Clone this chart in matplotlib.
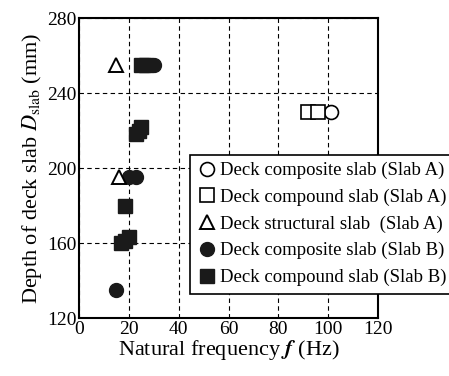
import matplotlib.pyplot as plt
import numpy as np

plt.rcParams['font.family'] = 'Liberation Serif'
plt.rcParams['mathtext.fontset'] = 'stix'

# Slab A
compA_f = [101]
compA_d = [230]
compoundA_f = [92, 96]
compoundA_d = [230, 230]
structA_f = [15, 16]
structA_d = [255, 195]

# Slab B
compB_f = [28, 30, 20, 23, 15]
compB_d = [255, 255, 195, 195, 135]
compoundB_f = [25, 27, 23, 24, 25, 18.5, 17, 18.5, 20]
compoundB_d = [255, 255, 218, 220, 222, 180, 160, 161, 163]

labels = ['Deck composite slab (Slab A)',
          'Deck compound slab (Slab A)',
          'Deck structural slab  (Slab A)',
          'Deck composite slab (Slab B)',
          'Deck compound slab (Slab B)']

fig = plt.figure(figsize=(4.49, 3.76), dpi=100)
ax = fig.add_axes([0.176, 0.154, 0.666, 0.798])

ms = 10
ax.plot(compB_f, compB_d, 'o', color='#1a1a1a', ms=ms, label=labels[3], zorder=3)
ax.plot(compoundB_f, compoundB_d, 's', color='#1a1a1a', ms=ms, label=labels[4], zorder=3)
ax.plot(compA_f, compA_d, 'o', mfc='white', mec='black', mew=1.2, ms=ms, label=labels[0], zorder=3)
ax.plot(compoundA_f, compoundA_d, 's', mfc='white', mec='black', mew=1.2, ms=ms, label=labels[1], zorder=3)
ax.plot(structA_f, structA_d, '^', mfc='white', mec='black', mew=1.4, ms=ms, label=labels[2], zorder=3)

ax.set_xlim(0, 120)
ax.set_ylim(120, 280)
ax.set_xticks(np.arange(0, 121, 20))
ax.set_yticks(np.arange(120, 281, 40))
ax.grid(True, color='black', linestyle=(0, (4, 3)), linewidth=0.8)
ax.tick_params(direction='in', labelsize=14, length=0, pad=2)
for s in ax.spines.values():
    s.set_linewidth(1.5)

ax.set_xlabel(r'Natural frequency $\mathbfit{f}$ (Hz)', fontsize=16, labelpad=0)
ax.set_ylabel(r'Depth of deck slab $\mathit{D}_{\rm slab}$ (mm)', fontsize=16, labelpad=2)

h, l = ax.get_legend_handles_labels()
order = [2, 3, 4, 0, 1]
leg = ax.legend([h[i] for i in order], [l[i] for i in order],
                loc='upper left', bbox_to_anchor=(0.37, 0.545),
                fontsize=13.5, frameon=True, fancybox=False,
                framealpha=1, edgecolor='black', borderpad=0.4,
                handletextpad=0.2, handlelength=1.0, labelspacing=0.5,
                borderaxespad=0)
leg.get_frame().set_linewidth(1.2)
leg.set_zorder(5)

fig.savefig('out.png', dpi=100)
